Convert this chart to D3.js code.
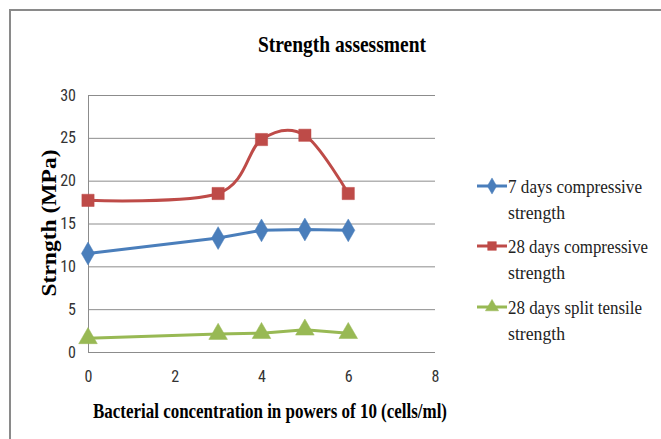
<!DOCTYPE html>
<html><head><meta charset="utf-8">
<script src="https://cdn.jsdelivr.net/npm/d3@7"></script>
<style>body{margin:0;background:#fff}svg{display:block}</style>
</head><body><svg id="c" width="661" height="439"></svg>
<script>
const xValues = [0, 3, 4, 5, 6];
const seriesNames = ["7 days compressive strength", "28 days compressive strength", "28 days split tensile strength"];
const compressive7 = [11.5, 13.3, 14.2, 14.3, 14.2];
const compressive28 = [17.7, 18.5, 24.8, 25.3, 18.5];
const splitTensile28 = [1.6, 2.1, 2.2, 2.6, 2.2];
const xTicks = [0, 2, 4, 6, 8];
const yTicks = [0, 5, 10, 15, 20, 25, 30];
const colors = ["#4a7ebb", "#be4b48", "#98b954"];

const svg = d3.select("#c");
const serif = "'Liberation Serif','Times New Roman',serif";
const tickFont = "'Liberation Sans Narrow','Roboto Condensed','Liberation Sans',sans-serif";

svg.append("rect").attr("x",10).attr("y",10).attr("width",700).attr("height",500)
  .attr("fill","#fff").attr("stroke","#8a8a8a").attr("stroke-width",2);

const x = d3.scaleLinear().domain([0,8]).range([88,435]);
const y = d3.scaleLinear().domain([0,30]).range([352,95]);

// grid
svg.append("g").selectAll("line").data(yTicks).join("line")
  .attr("x1",x(0)).attr("x2",x(8)).attr("y1",d=>y(d)+0.5).attr("y2",d=>y(d)+0.5)
  .attr("stroke","#8c8c8c").attr("stroke-width",1);
svg.append("line").attr("x1",x(0)+0.5).attr("x2",x(0)+0.5).attr("y1",y(30)).attr("y2",y(0)+1)
  .attr("stroke","#8c8c8c");

const yAxis = d3.axisLeft(y).tickValues(yTicks).tickSize(0).tickPadding(12);
const gy = svg.append("g").attr("transform",`translate(${x(0)},0)`).call(yAxis);
gy.select(".domain").remove();
gy.selectAll("text").attr("font-family",tickFont).attr("font-size",16).attr("fill","#333");

const xAxis = d3.axisBottom(x).tickValues(xTicks).tickSize(0).tickPadding(19);
const gx = svg.append("g").attr("transform",`translate(0,${y(0)})`).call(xAxis);
gx.select(".domain").remove();
gx.selectAll("text").attr("font-family",tickFont).attr("font-size",16).attr("fill","#333");

// titles
svg.append("text").attr("x",258).attr("y",52)
  .attr("font-family",serif).attr("font-weight","bold").attr("font-size",24)
  .attr("textLength",168).attr("lengthAdjust","spacingAndGlyphs")
  .text("Strength assessment");
svg.append("text").attr("transform","translate(56,223) rotate(-90)").attr("text-anchor","middle")
  .attr("font-family",serif).attr("font-weight","bold").attr("font-size",20)
  .attr("textLength",147).attr("lengthAdjust","spacingAndGlyphs")
  .text("Strngth (MPa)");
svg.append("text").attr("x",93).attr("y",418)
  .attr("font-family",serif).attr("font-weight","bold").attr("font-size",21)
  .attr("textLength",354).attr("lengthAdjust","spacingAndGlyphs")
  .text("Bacterial concentration  in powers of 10 (cells/ml)");

const data = [compressive7, compressive28, splitTensile28];
const curves = [d3.curveLinear, d3.curveCatmullRom.alpha(0), d3.curveLinear];

function drawMarker(g, i, cx, cy, scale){
  const s = scale || 1;
  const type = i===0?d3.symbolDiamond:i===1?d3.symbolSquare:d3.symbolTriangle;
  const size = 150*s;
  g.append("path").attr("d",d3.symbol().type(type).size(size)())
    .attr("transform",`translate(${cx},${cy})`)
    .attr("fill",colors[i]).attr("stroke",colors[i]).attr("stroke-width",0.5);
}

data.forEach((vals,i)=>{
  const pts = xValues.map((v,j)=>[x(v),y(vals[j])]);
  const line = d3.line().curve(curves[i]);
  svg.append("path").attr("d",line(pts)).attr("fill","none")
    .attr("stroke",colors[i]).attr("stroke-width",3).attr("stroke-linejoin","round");
  const g = svg.append("g");
  pts.forEach(p=>drawMarker(g,i,p[0],p[1]));
});

// legend
const legendLineY = [186, 246, 307];
const lineLabels = [["7 days compressive","strength"],["28 days compressive","strength"],["28 days split tensile","strength"]];
const labelWidths = [[134,57],[140,57],[134,57]];
lineLabels.forEach((lab,i)=>{
  const ly = legendLineY[i];
  svg.append("line").attr("x1",477).attr("x2",507).attr("y1",ly).attr("y2",ly)
    .attr("stroke",colors[i]).attr("stroke-width",3);
  const g = svg.append("g");
  drawMarker(g,i,492,ly,0.5);
  lab.forEach((t,k)=>{
    svg.append("text").attr("x",508).attr("y",ly+7+k*26)
      .attr("font-family",serif).attr("font-size",19).attr("fill","#222")
      .attr("textLength",labelWidths[i][k]).attr("lengthAdjust","spacingAndGlyphs")
      .text(t);
  });
});
</script></body></html>
